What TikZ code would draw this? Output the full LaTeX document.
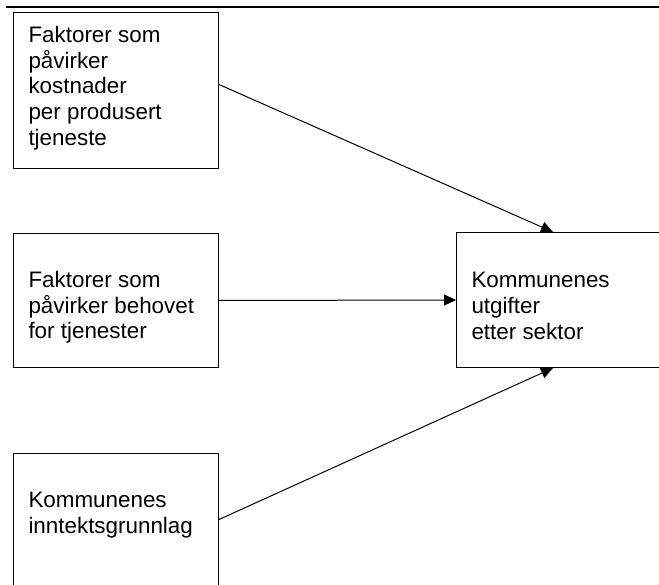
\documentclass[tikz,border=0pt]{standalone}
\usepackage{fontspec}
\setmainfont{Liberation Sans}
\usetikzlibrary{arrows.meta,positioning,calc}
\tikzset{
  boks/.style={draw,line width=1pt,inner sep=0pt,anchor=north west},
  tekst/.style={anchor=north west,inner sep=0pt,align=left,
    font=\fontsize{22.4}{25.6}\selectfont},
}
\begin{document}
\begin{tikzpicture}[x=1pt,y=-1pt,>={Triangle[length=12pt,width=11pt]},line width=1pt]
\useasboundingbox (0,0) rectangle (659,585);
\clip (0,0) rectangle (659,585);
\draw[line width=2pt] (6,7)--(659,7);
\node[boks,minimum width=205pt,minimum height=156pt] (kost) at (13,12) {};
\node[boks,minimum width=205pt,minimum height=134pt] (behov) at (13,233) {};
\node[boks,minimum width=205pt,minimum height=167pt] (inntekt) at (13,453) {};
\node[boks,minimum width=244pt,minimum height=135pt] (utgift) at (456,232) {};
\node[tekst] (tkost) at (28,26) {Faktorer som\\påvirker\\kostnader\\per produsert\\tjeneste};
\node[tekst] (tbehov) at (28,271) {Faktorer som\\påvirker behovet\\for tjenester};
\node[tekst] (tinntekt) at (28,492) {Kommunenes\\inntektsgrunnlag};
\node[tekst] (tutgift) at (471,272) {Kommunenes\\utgifter\\etter sektor};
\draw[->] ([yshift=6pt]kost.east)--([xshift=97pt]utgift.north west);
\draw[->] (behov.east)--(utgift.west);
\draw[->] ([yshift=17.5pt]inntekt.east)--([xshift=97pt]utgift.south west);
\end{tikzpicture}
\end{document}
